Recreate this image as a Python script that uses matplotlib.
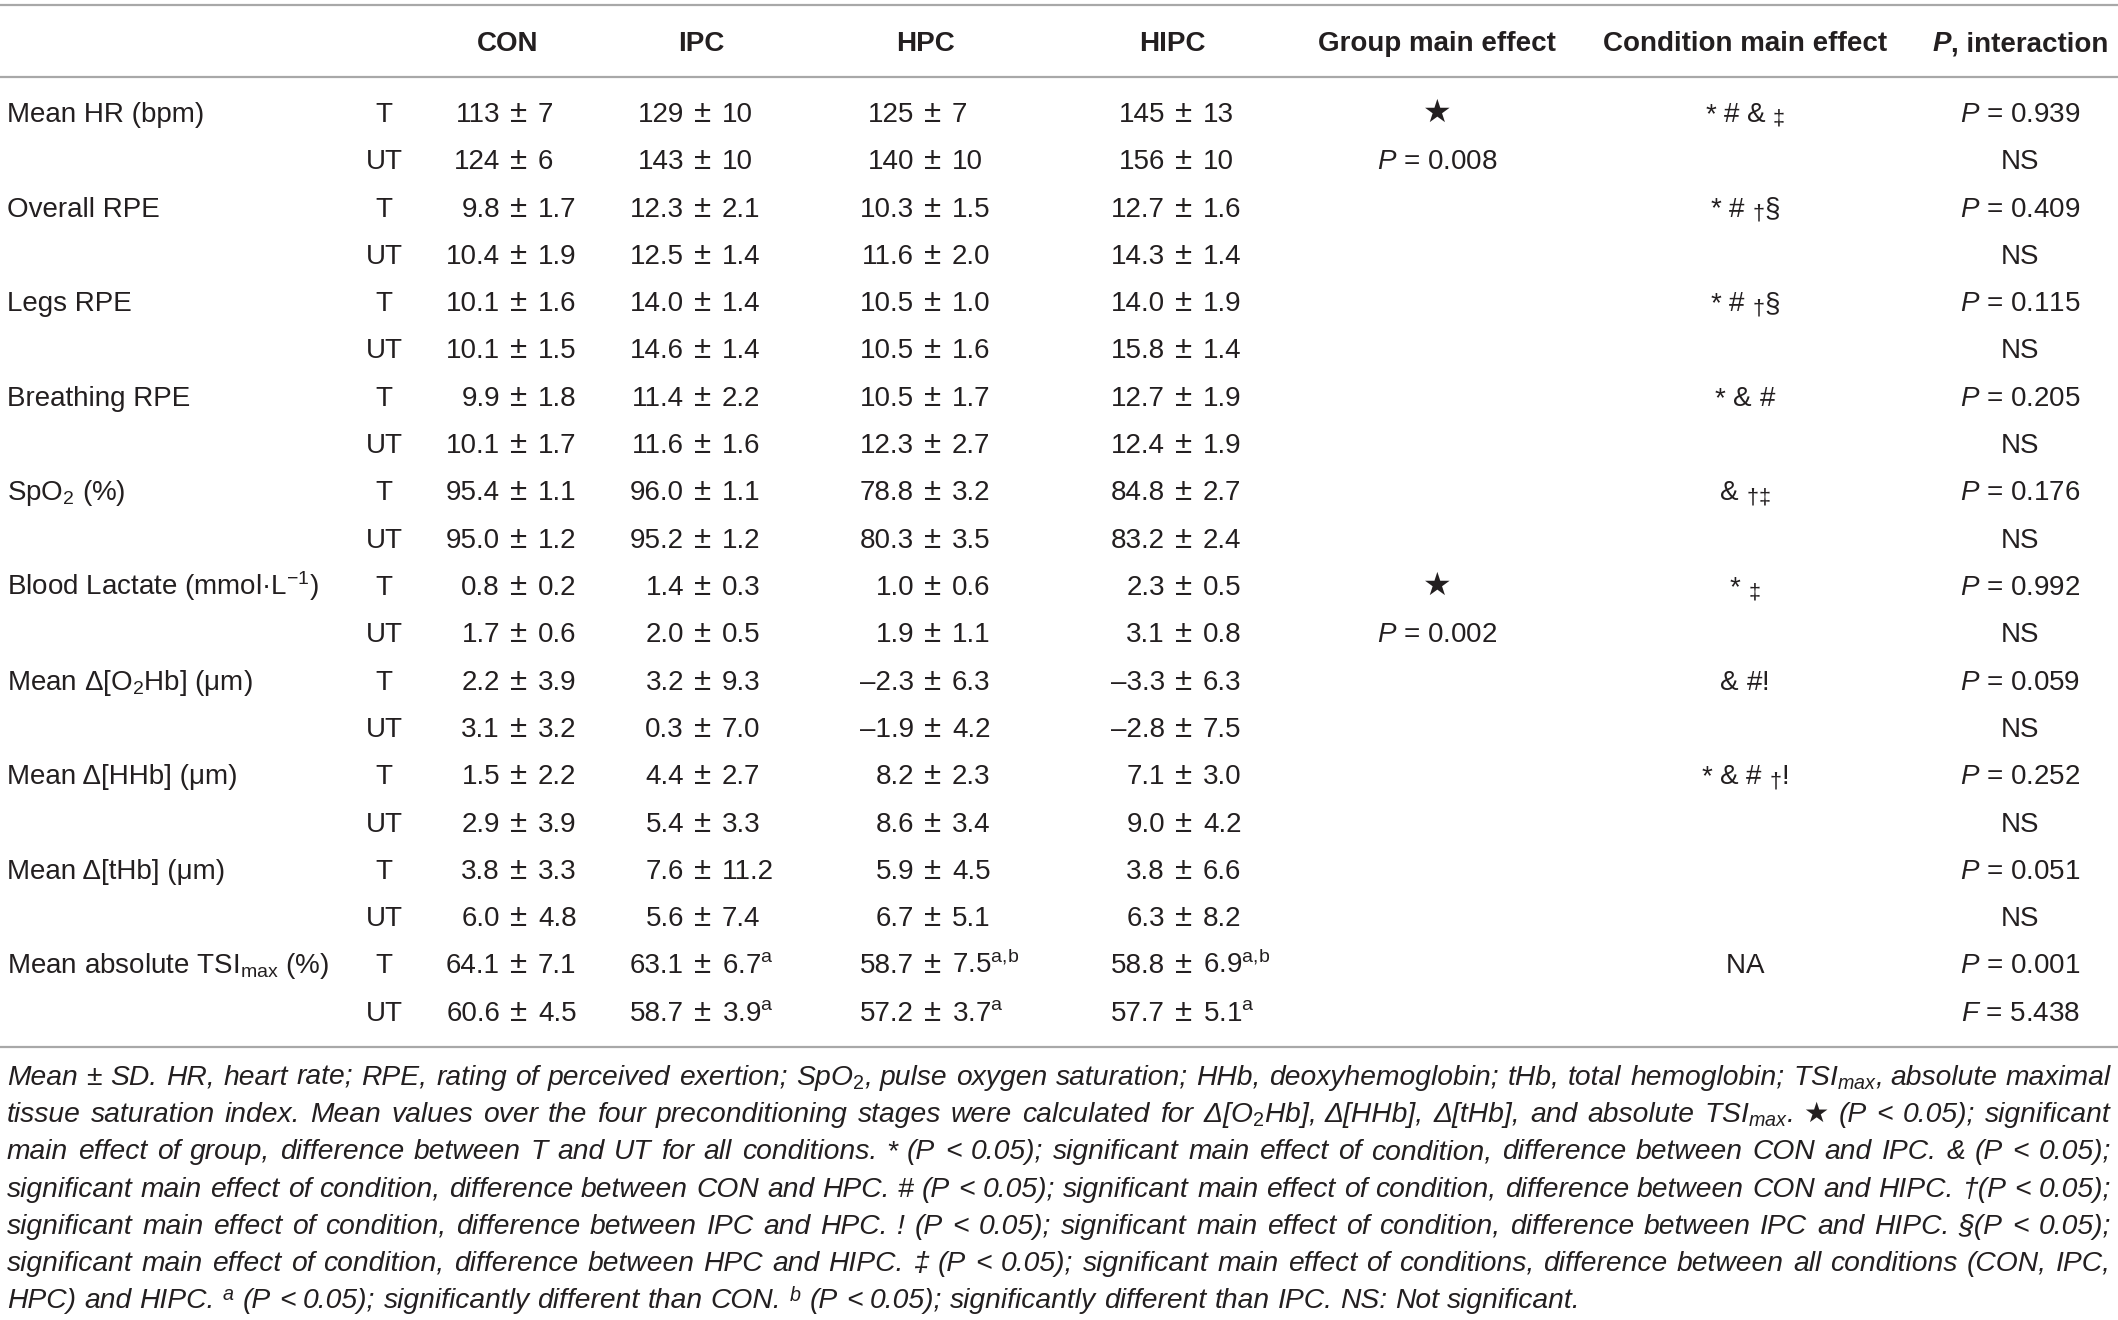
import matplotlib
matplotlib.use("Agg")
import matplotlib.pyplot as plt

# ---------------- data ----------------
row_labels = ["Mean HR (bpm)", "Overall RPE", "Legs RPE", "Breathing RPE", "SpO$_2$ (%)",
              "Blood Lactate (mmol·L$^{-1}$)", "Mean Δ[O$_2$Hb] (μm)", "Mean Δ[HHb] (μm)",
              "Mean Δ[tHb] (μm)", "Mean absolute TSI$_{\\mathrm{max}}$ (%)"]
groups = ["T", "UT"]
columns = ["CON", "IPC", "HPC", "HIPC"]

con = ["113 ± 7", "124 ± 6", "9.8 ± 1.7", "10.4 ± 1.9", "10.1 ± 1.6", "10.1 ± 1.5",
       "9.9 ± 1.8", "10.1 ± 1.7", "95.4 ± 1.1", "95.0 ± 1.2", "0.8 ± 0.2", "1.7 ± 0.6",
       "2.2 ± 3.9", "3.1 ± 3.2", "1.5 ± 2.2", "2.9 ± 3.9", "3.8 ± 3.3", "6.0 ± 4.8",
       "64.1 ± 7.1", "60.6 ± 4.5"]
ipc = ["129 ± 10", "143 ± 10", "12.3 ± 2.1", "12.5 ± 1.4", "14.0 ± 1.4", "14.6 ± 1.4",
       "11.4 ± 2.2", "11.6 ± 1.6", "96.0 ± 1.1", "95.2 ± 1.2", "1.4 ± 0.3", "2.0 ± 0.5",
       "3.2 ± 9.3", "0.3 ± 7.0", "4.4 ± 2.7", "5.4 ± 3.3", "7.6 ± 11.2", "5.6 ± 7.4",
       "63.1 ± 6.7", "58.7 ± 3.9"]
hpc = ["125 ± 7", "140 ± 10", "10.3 ± 1.5", "11.6 ± 2.0", "10.5 ± 1.0", "10.5 ± 1.6",
       "10.5 ± 1.7", "12.3 ± 2.7", "78.8 ± 3.2", "80.3 ± 3.5", "1.0 ± 0.6", "1.9 ± 1.1",
       "–2.3 ± 6.3", "–1.9 ± 4.2", "8.2 ± 2.3", "8.6 ± 3.4", "5.9 ± 4.5", "6.7 ± 5.1",
       "58.7 ± 7.5", "57.2 ± 3.7"]
hipc = ["145 ± 13", "156 ± 10", "12.7 ± 1.6", "14.3 ± 1.4", "14.0 ± 1.9", "15.8 ± 1.4",
        "12.7 ± 1.9", "12.4 ± 1.9", "84.8 ± 2.7", "83.2 ± 2.4", "2.3 ± 0.5", "3.1 ± 0.8",
        "–3.3 ± 6.3", "–2.8 ± 7.5", "7.1 ± 3.0", "9.0 ± 4.2", "3.8 ± 6.6", "6.3 ± 8.2",
        "58.8 ± 6.9", "57.7 ± 5.1"]
# superscript markers (last two rows only)
con_sup = [""] * 20
ipc_sup = [""] * 18 + ["a", "a"]
hpc_sup = [""] * 18 + ["a,b", "a"]
hipc_sup = [""] * 18 + ["a,b", "a"]

group_effect = ["★", "$P$ = 0.008", "", "", "", "", "", "", "", "",
                "★", "$P$ = 0.002", "", "", "", "", "", "", "", ""]
condition_effect = ["* # & ‡", "", "* # †§", "", "* # †§", "", "* & #", "", "& †‡", "",
                    "* ‡", "", "& #!", "", "* & # †!", "", "", "", "NA", ""]
interaction = ["$P$ = 0.939", "NS", "$P$ = 0.409", "NS", "$P$ = 0.115", "NS",
               "$P$ = 0.205", "NS", "$P$ = 0.176", "NS", "$P$ = 0.992", "NS",
               "$P$ = 0.059", "NS", "$P$ = 0.252", "NS", "$P$ = 0.051", "NS",
               "$P$ = 0.001", "$F$ = 5.438"]

footnote_lines = [
    "Mean ± SD. HR, heart rate; RPE, rating of perceived exertion; SpO$_2$, pulse oxygen saturation; HHb, deoxyhemoglobin; tHb, total hemoglobin; TSI$_{max}$, absolute maximal",
    "tissue saturation index. Mean values over the four preconditioning stages were calculated for Δ[O$_2$Hb], Δ[HHb], Δ[tHb], and absolute TSI$_{max}$. ★ (P < 0.05); significant",
    "main effect of group, difference between T and UT for all conditions. * (P < 0.05); significant main effect of condition, difference between CON and IPC. & (P < 0.05);",
    "significant main effect of condition, difference between CON and HPC. # (P < 0.05); significant main effect of condition, difference between CON and HIPC. †(P < 0.05);",
    "significant main effect of condition, difference between IPC and HPC. ! (P < 0.05); significant main effect of condition, difference between IPC and HIPC. §(P < 0.05);",
    "significant main effect of condition, difference between HPC and HIPC. ‡ (P < 0.05); significant main effect of conditions, difference between all conditions (CON, IPC,",
    "HPC) and HIPC. $^{a}$ (P < 0.05); significantly different than CON. $^{b}$ (P < 0.05); significantly different than IPC. NS: Not significant.",
]

# ---------------- style ----------------
W, H = 2118, 1320
plt.rcParams["font.family"] = ["Liberation Sans", "DejaVu Sans"]
plt.rcParams["mathtext.fontset"] = "custom"
plt.rcParams["mathtext.rm"] = "Liberation Sans"
plt.rcParams["mathtext.it"] = "Liberation Sans:italic"
plt.rcParams["mathtext.bf"] = "Liberation Sans:bold"

TXT = "#231f20"
LINE = "#a8a8a8"
FS = 20
FS_FOOT = 20.3

fig = plt.figure(figsize=(W / 100, H / 100), dpi=100)
ax = fig.add_axes([0, 0, 1, 1])
ax.set_xlim(0, W)
ax.set_ylim(H, 0)
ax.axis("off")
renderer = fig.canvas.get_renderer()


def width_of(t):
    return t.get_window_extent(renderer).width


# rules
for yy in (5, 77, 1047):
    ax.plot([0, W], [yy, yy], color=LINE, lw=1.6, solid_capstyle="butt")

# header
x_group = 384
x_pm = [519, 703, 933, 1184]
x_hdr = [508, 701, 926, 1172]
x_geff, x_ceff, x_int = 1437, 1745, 2020
hdr_y = 51
for xc, name in zip(x_hdr, columns):
    ax.text(xc, hdr_y, name, ha="center", va="baseline",
            fontsize=FS, fontweight="bold", color=TXT)
ax.text(x_geff, hdr_y, "Group main effect", ha="center", va="baseline",
        fontsize=FS, fontweight="bold", color=TXT)
ax.text(x_ceff, hdr_y, "Condition main effect", ha="center", va="baseline",
        fontsize=FS, fontweight="bold", color=TXT)
# "P, interaction" with bold-italic P
tP = ax.text(0, hdr_y, "P", ha="left", va="baseline", fontsize=FS, fontweight="bold",
             fontstyle="italic", color=TXT)
tR = ax.text(0, hdr_y, ", interaction", ha="left", va="baseline", fontsize=FS,
             fontweight="bold", color=TXT)
wP, wR = width_of(tP), width_of(tR)
x0 = x_int - (wP + wR) / 2
tP.set_x(x0)
tR.set_x(x0 + wP)


def draw_symbols(xc, y, s):
    """Centered symbol string; daggers drawn smaller and lowered."""
    arts = []
    for ch in s:
        small = ch in "†‡"
        t = ax.text(0, y + (3 if small else 0), ch, ha="left", va="baseline",
                    fontsize=FS * (0.78 if small else 1.0), color=TXT)
        arts.append(t)
    ws = [width_of(t) for t in arts]
    x = xc - sum(ws) / 2
    for t, w in zip(arts, ws):
        t.set_x(x)
        x += w


# body
row_y0, row_dy = 122, 47.3
OFF = 19
cols = [(con, con_sup), (ipc, ipc_sup), (hpc, hpc_sup), (hipc, hipc_sup)]
for i in range(20):
    y = row_y0 + i * row_dy
    if i % 2 == 0:
        ax.text(7, y, row_labels[i // 2], ha="left", va="baseline", fontsize=FS, color=TXT)
    ax.text(x_group, y, groups[i % 2], ha="center", va="baseline", fontsize=FS, color=TXT)
    for xc, (vals, sups) in zip(x_pm, cols):
        left, right = vals[i].split(" ± ")
        if sups[i]:
            right = right + "$^{\\mathrm{" + sups[i].replace(",", "{,}") + "}}$"
        ax.text(xc - OFF, y, left, ha="right", va="baseline", fontsize=FS, color=TXT)
        ax.text(xc, y, "±", ha="center", va="baseline", fontsize=FS * 1.12, color=TXT)
        ax.text(xc + OFF, y, right, ha="left", va="baseline", fontsize=FS, color=TXT)
    if group_effect[i]:
        ax.text(x_geff, y, group_effect[i], ha="center", va="baseline",
                fontsize=FS + (3 if group_effect[i] == "★" else 0), color=TXT)
    if condition_effect[i]:
        draw_symbols(x_ceff, y, condition_effect[i])
    ax.text(x_int, y, interaction[i], ha="center", va="baseline", fontsize=FS, color=TXT)

# footnote (justified)
fx0, fx1 = 7, 2111
fy0, fdy = 1085, 37.2
ts = ax.text(0, 0, "x x", fontsize=FS_FOOT, fontstyle="italic")
tn = ax.text(0, 0, "xx", fontsize=FS_FOOT, fontstyle="italic")
space_w = width_of(ts) - width_of(tn)
ts.remove()
tn.remove()
for li, line in enumerate(footnote_lines):
    y = fy0 + li * fdy
    words = line.split(" ")
    arts = [ax.text(0, y, w, ha="left", va="baseline", fontsize=FS_FOOT,
                    fontstyle="italic", color=TXT) for w in words]
    widths = [width_of(a) for a in arts]
    if li < len(footnote_lines) - 1:
        gap = (fx1 - fx0 - sum(widths)) / (len(words) - 1)
        gap = max(gap, space_w * 0.5)
    else:
        gap = space_w
    x = fx0
    for a, w in zip(arts, widths):
        a.set_x(x)
        x += w + gap

fig.savefig("out.png", dpi=100, facecolor="white")
